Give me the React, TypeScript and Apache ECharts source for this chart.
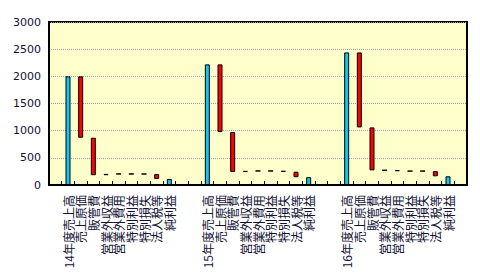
import React, { useEffect, useRef } from "react";
import * as echarts from "echarts";

// category labels per fiscal year (first = sales total, last = net income total)
const labels14 = ["14年度売上高", "売上原価", "販管費", "営業外収益", "営業外費用", "特別利益", "特別損失", "法人税等", "純利益"];
const labels15 = ["15年度売上高", "売上原価", "販管費", "営業外収益", "営業外費用", "特別利益", "特別損失", "法人税等", "純利益"];
const labels16 = ["16年度売上高", "売上原価", "販管費", "営業外収益", "営業外費用", "特別利益", "特別損失", "法人税等", "純利益"];

// values: first = sales, middle = changes, last = net income
const values14 = [2000, -1130, -690, 25, -3, 2, -3, -90, 111];
const values15 = [2220, -1245, -735, 20, -3, 2, -15, -100, 144];
const values16 = [2440, -1380, -790, 3, -18, 2, -2, -95, 160];

const yTicks = [0, 500, 1000, 1500, 2000, 2500, 3000];

const TOTAL_COLOR = "#12C6F2";
const DOWN_COLOR = "#FF0000";
const UP_COLOR = "#FF0000";

function buildGroup(labels: string[], values: number[]) {
  const cats: string[] = [];
  const base: any[] = [];
  const vis: any[] = [];
  let level = 0;
  values.forEach((v, i) => {
    cats.push(labels[i]);
    if (i === 0 || i === values.length - 1) {
      base.push(0);
      vis.push({ value: v, itemStyle: { color: TOTAL_COLOR } });
      level = v;
    } else {
      const next = level + v;
      base.push(Math.min(level, next));
      vis.push({ value: Math.abs(v), itemStyle: { color: v < 0 ? DOWN_COLOR : UP_COLOR } });
      level = next;
    }
  });
  return { cats, base, vis };
}

export default function App() {
  const ref = useRef<HTMLDivElement>(null);
  useEffect(() => {
    if (!ref.current) return;
    const chart = echarts.init(ref.current, undefined, { renderer: "svg" });
    const g = [buildGroup(labels14, values14), buildGroup(labels15, values15), buildGroup(labels16, values16)];
    const categories: string[] = [""];
    const base: any[] = ["-"];
    const vis: any[] = ["-"];
    g.forEach((grp, idx) => {
      categories.push(...grp.cats);
      base.push(...grp.base);
      vis.push(...grp.vis);
      const gaps = idx < g.length - 1 ? 2 : 1;
      for (let k = 0; k < gaps; k++) {
        categories.push("");
        base.push("-");
        vis.push("-");
      }
    });
    chart.setOption({
      animation: false,
      backgroundColor: "#ffffff",
      grid: {
        left: 49,
        right: 13,
        top: 22,
        bottom: 95,
        show: true,
        backgroundColor: "#FFFFCC",
        borderColor: "#000000",
        borderWidth: 2,
      },
      xAxis: {
        type: "category",
        data: categories,
        axisLine: { show: true, lineStyle: { color: "#000", width: 2 } },
        axisTick: { show: true, inside: true, length: 4, lineStyle: { color: "#000" } },
        axisLabel: {
          interval: 0,
          rotate: 90,
          margin: 10,
          fontSize: 12,
          lineHeight: 12,
          color: "#111133",
          fontFamily: "Noto Sans CJK JP",
        },
        splitLine: { show: false },
      },
      yAxis: {
        type: "value",
        min: yTicks[0],
        max: yTicks[yTicks.length - 1],
        interval: 500,
        axisLine: { show: true, lineStyle: { color: "#000", width: 2 } },
        axisTick: { show: false },
        axisLabel: {
          fontSize: 11,
          margin: 8,
          color: "#111133",
          fontFamily: "DejaVu Sans",
          formatter: (v: number) => String(v),
        },
        splitLine: { show: true, lineStyle: { color: "#9C9CB4", width: 1, type: [1, 1] } },
      },
      series: [
        {
          type: "bar",
          stack: "w",
          data: base,
          barWidth: 5,
          itemStyle: { color: "transparent", borderWidth: 0 },
          silent: true,
        },
        {
          type: "bar",
          stack: "w",
          data: vis,
          barWidth: 5,
          itemStyle: { borderColor: "#000", borderWidth: 1 },
        },
      ],
    });
    return () => chart.dispose();
  }, []);
  return (
    <div
      ref={ref}
      style={{ position: "fixed", left: 0, top: 0, width: 480, height: 280 }}
    />
  );
}
